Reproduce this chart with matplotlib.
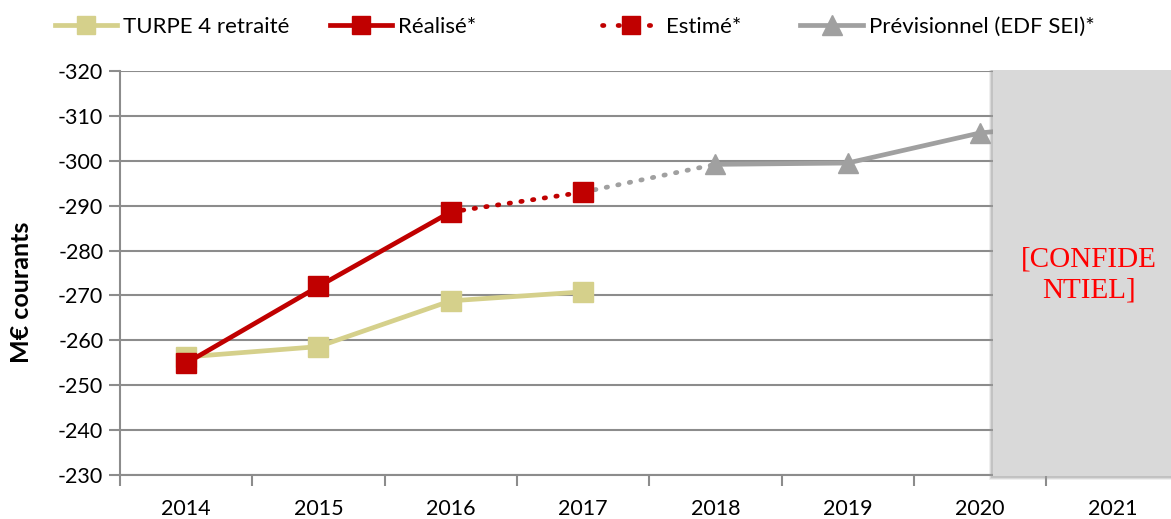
import matplotlib
matplotlib.use("Agg")
import matplotlib.pyplot as plt
from matplotlib.patches import Rectangle
from matplotlib.lines import Line2D

plt.rcParams['font.family'] = ['Lato', 'DejaVu Sans']

years = ['2014', '2015', '2016', '2017', '2018', '2019', '2020', '2021']
turpe_years = ['2014', '2015', '2016', '2017']
turpe = [-256.3, -258.6, -268.8, -270.8]
realise_years = ['2014', '2015', '2016']
realise = [-254.9, -272.0, -288.6]
estime_years = ['2016', '2017']
estime = [-288.6, -293.0]
link_years = ['2017', '2018']
link = [-293.0, -299.2]
prev_years = ['2018', '2019', '2020', '2021']
prev = [-299.2, -299.5, -306.2, -309.0]
yticks = [-320, -310, -300, -290, -280, -270, -260, -250, -240, -230]

C_TURPE = '#d5d08b'
C_RED = '#c00000'
C_GREY = '#a0a0a0'
C_AX = '#8c8c8c'

W, H = 1171, 519
fig = plt.figure(figsize=(W / 100, H / 100), dpi=100)
ax = fig.add_axes([120 / W, 1 - 475 / H, 1058.4 / W, 404 / H])

pos = {y: i for i, y in enumerate(years)}
def xs(lst):
    return [pos[y] for y in lst]

DOT = (0, (0.3, 2.2))
ax.plot(xs(turpe_years), turpe, color=C_TURPE, lw=3.4, marker='s', ms=14,
        mec=C_TURPE, mfc=C_TURPE, zorder=3)
ax.plot(xs(link_years), link, color=C_GREY, lw=3.4, ls=DOT,
        dash_capstyle='round', zorder=3)
ax.plot(xs(prev_years), prev, color=C_GREY, lw=3.4, marker='^', ms=15,
        mec=C_GREY, mfc=C_GREY, zorder=3)
ax.plot(xs(estime_years), estime, color=C_RED, lw=3.4, ls=DOT,
        dash_capstyle='round', zorder=4)
ax.plot(xs(estime_years)[1:], estime[1:], ls='none', marker='s', ms=14,
        mec=C_RED, mfc=C_RED, zorder=5)
ax.plot(xs(realise_years), realise, color=C_RED, lw=3.4, marker='s', ms=14,
        mec=C_RED, mfc=C_RED, zorder=5)

ax.set_xlim(-0.5, len(years) - 0.5)
ax.set_ylim(-230, -320)
ax.set_yticks(yticks)
ax.set_yticklabels([str(v) for v in yticks], fontsize=15.5)
ax.set_xticks(range(len(years)))
ax.set_xticklabels(years, fontsize=15.5)
ax.set_xticks([i + 0.5 for i in range(-1, len(years))], minor=True)
ax.tick_params(axis='x', which='major', length=0, pad=17)
ax.tick_params(axis='x', which='minor', length=8, width=1.5, color=C_AX)
ax.tick_params(axis='y', length=8, width=1.5, color=C_AX, pad=4)
ax.grid(axis='y', color=C_AX, lw=1.5)
ax.set_axisbelow(True)
for s in ['top', 'right']:
    ax.spines[s].set_visible(False)
for s in ['left', 'bottom']:
    ax.spines[s].set_color(C_AX)
    ax.spines[s].set_linewidth(1.5)
ax.set_ylabel('M€ courants', fontsize=18, fontweight='bold')
ax.yaxis.set_label_coords(-87 / 1058.4, (475 - 292) / 404)

# confidential box with soft shadow
for off, a in [(4, 0.15), (3, 0.25), (2, 0.35)]:
    fig.patches.append(Rectangle(((993 - off) / W, 1 - (476 + off) / H), 200 / W,
                                 (406 + off) / H, transform=fig.transFigure,
                                 facecolor='#9a9a9a', edgecolor='none',
                                 alpha=a, zorder=9))
fig.patches.append(Rectangle((993 / W, 1 - 476 / H), 200 / W, 406 / H,
                             transform=fig.transFigure, facecolor='#d9d9d9',
                             edgecolor='none', zorder=10))
fig.text(1089 / W, 1 - 275 / H, '[CONFIDE\nNTIEL]', color='#ff0000',
         fontsize=21, family=['Liberation Serif', 'DejaVu Serif'],
         ha='center', va='center', linespacing=1.25, zorder=11)

handles = [
    Line2D([], [], color=C_TURPE, lw=3.4, marker='s', ms=13, mec=C_TURPE, mfc=C_TURPE),
    Line2D([], [], color=C_RED, lw=3.4, marker='s', ms=13, mec=C_RED, mfc=C_RED),
    Line2D([], [], color=C_RED, lw=3.4, ls=(0, (0.3, 3.0)), dash_capstyle='round',
           marker='s', ms=13, mec=C_RED, mfc=C_RED),
    Line2D([], [], color=C_GREY, lw=3.4, marker='^', ms=14, mec=C_GREY, mfc=C_GREY),
]
labels = ['TURPE 4 retraité', 'Réalisé*', 'Estimé*', 'Prévisionnel (EDF SEI)*']
starts = [55, 330, 602, 800]
lens = [62, 62, 58, 63]
for h, l, x0, ln in zip(handles, labels, starts, lens):
    leg = fig.legend([h], [l], loc='center left', bbox_to_anchor=(x0 / W, 1 - 27 / H),
                     frameon=False, fontsize=16, handlelength=ln / 22.2,
                     handletextpad=0.25, borderpad=0, borderaxespad=0)

fig.savefig('out.png', dpi=100)
